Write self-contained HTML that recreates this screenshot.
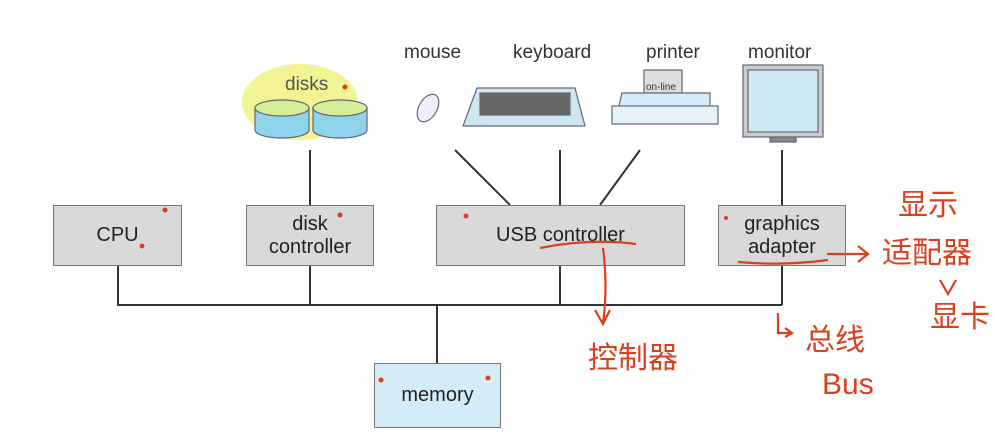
<!DOCTYPE html><html><head><meta charset="utf-8"><style>
body{margin:0;background:#fff;width:995px;height:442px;overflow:hidden;position:relative;font-family:"Liberation Sans",sans-serif}
.b{position:absolute;background:#d9d9d9;border:1.5px solid #777;box-sizing:border-box;display:flex;align-items:center;justify-content:center;text-align:center;font-size:20px;color:#222;line-height:23px}
.t{position:absolute;font-size:19px;color:#333}
.r{position:absolute;color:#d8401e;font-family:"Noto Sans CJK SC",sans-serif;font-size:30px}
</style></head><body>
<svg width="995" height="442" style="position:absolute;left:0;top:0">
<g stroke="#333" stroke-width="2" fill="none">
<path d="M118 266V305H782M310 150V205M310 266V305M560 266V305M782 150V205M782 266V305M437 305V363M455 150L510 205M560 150V205M640 150L600 205"/>
</g>
<ellipse cx="300" cy="102" rx="58" ry="38" fill="#eef07a" opacity=".8"/>
<g stroke="#667" stroke-width="1.2">
<path d="M255 108v22a27 8 0 0 0 54 0v-22" fill="#8fd4ea"/><ellipse cx="282" cy="108" rx="27" ry="8" fill="#d6ee9a"/>
<path d="M313 108v22a27 8 0 0 0 54 0v-22" fill="#8fd4ea"/><ellipse cx="340" cy="108" rx="27" ry="8" fill="#d6ee9a"/>
<ellipse cx="428" cy="108" rx="9" ry="15" transform="rotate(30 428 108)" fill="#eef"/>
<path d="M477 88h98l10 38h-122z" fill="#cde6f2"/>
<rect x="480" y="93" width="90" height="22" fill="#666"/>
<rect x="644" y="70" width="38" height="38" fill="#ddd"/>
<path d="M622 93h88v30h-95z" fill="#d3ecf7"/><rect x="612" y="106" width="106" height="18" fill="#e6f3fa"/>
<rect x="743" y="65" width="80" height="72" fill="#ccc"/><rect x="748" y="70" width="70" height="62" fill="#cfe8f5"/>
<rect x="770" y="137" width="26" height="5" fill="#888"/>
</g>
</svg>
<div class="t" style="left:404px;top:42px">mouse</div>
<div class="t" style="left:513px;top:42px">keyboard</div>
<div class="t" style="left:646px;top:42px">printer</div>
<div class="t" style="left:748px;top:42px">monitor</div>
<div class="t" style="left:285px;top:74px;color:#555">disks</div>
<div class="t" style="left:646px;top:82px;font-size:10px">on-line</div>
<div class="b" style="left:53px;top:205px;width:129px;height:61px">CPU</div>
<div class="b" style="left:246px;top:205px;width:128px;height:61px">disk<br>controller</div>
<div class="b" style="left:436px;top:205px;width:249px;height:61px">USB controller</div>
<div class="b" style="left:718px;top:205px;width:128px;height:61px">graphics<br>adapter</div>
<div class="b" style="left:374px;top:363px;width:127px;height:65px;background:#d3ecf7">memory</div>
<svg width="995" height="442" style="position:absolute;left:0;top:0">
<g stroke="#d8401e" stroke-width="2.2" fill="none">
<path d="M540 248q50-10 96-4M603 248q5 40 0 75M595 310l8 14 7-14"/>
<path d="M738 262q45 4 90-2M827 254h40M858 246l10 8-10 8"/>
<path d="M778 313v20h12M785 328l7 5-7 4"/>
<path d="M940 280l8 14 8-14"/>
</g>
<g fill="#d8401e"><circle cx="165" cy="210" r="2.5"/><circle cx="340" cy="215" r="2.5"/><circle cx="466" cy="216" r="2.5"/><circle cx="726" cy="218" r="2"/><circle cx="345" cy="87" r="2.5"/><circle cx="488" cy="378" r="2.5"/><circle cx="381" cy="380" r="2.5"/><circle cx="142" cy="246" r="2.5"/></g>
</svg>
<div class="r" style="left:898px;top:180px">显示</div>
<div class="r" style="left:882px;top:228px">适配器</div>
<div class="r" style="left:930px;top:292px">显卡</div>
<div class="r" style="left:588px;top:333px">控制器</div>
<div class="r" style="left:805px;top:315px">总线</div>
<div class="r" style="left:822px;top:368px;font-family:'Liberation Sans',sans-serif">Bus</div>
</body></html>
